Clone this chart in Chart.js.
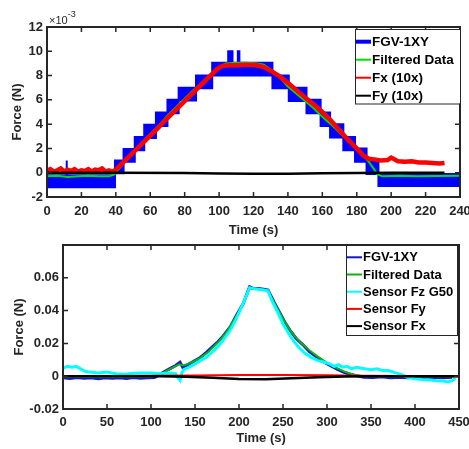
<!DOCTYPE html>
<html lang="en">
<head>
<meta charset="UTF-8">
<title>Force vs time</title>
<script src="https://cdn.jsdelivr.net/npm/chart.js"></script>
<style>
  body { margin: 0; background: #fff; }
  canvas { position: absolute; left: 0; }
  #topChart { top: 0; }
  #bottomChart { top: 240px; }
</style>
</head>
<body>
<canvas id="topChart" width="469" height="240"></canvas>
<canvas id="bottomChart" width="469" height="209"></canvas>
<script>
// ---- top panel, force in units of 1e-3 N ----
// FGV-1XY is a quantised signal: the blue band is stored as the upper and lower edge of each level,
// level i holds from fgvTime[i] to fgvTime[i+1]
const fgvTime = [0, 11.2, 11.6, 39.5, 44.5, 51, 56.5, 63.3, 70, 76.5, 86.6, 96, 105.3, 107.8, 110.9, 111.8, 131, 140.5, 150.8, 159, 164.5, 172.2, 179, 185.7, 192.6, 240];
const fgvHigh = [-0.2, 1.0, -0.2, 1.0, 1.95, 2.95, 3.95, 4.95, 6.0, 7.0, 8.0, 9.05, 10.0, 9.05, 10.0, 9.05, 8.0, 7.0, 6.0, 4.95, 4.0, 2.95, 2.0, 1.0, -0.1, -0.1];
const fgvLow = [-1.2, -1.2, -1.2, -0.05, 0.9, 1.85, 2.85, 3.85, 4.9, 5.95, 6.95, 8.0, 8.0, 8.0, 8.0, 8.0, 6.95, 5.9, 4.9, 3.85, 2.9, 1.85, 0.9, -0.1, -1.1, -1.1];

const filtTime = [0, 6, 12, 18, 24, 30, 36, 39, 42, 46, 50, 55, 60, 65, 70, 75, 80, 85, 90, 95, 100, 104, 110, 116, 122, 126, 130, 135, 140, 145, 150, 155, 160, 165, 170, 175, 180, 184, 187, 190, 192, 195, 205, 215, 225, 240];
const filtVal = [-0.3, -0.25, -0.35, -0.3, -0.25, -0.3, -0.3, -0.15, 0.35, 1.0, 1.7, 2.45, 3.2, 3.9, 4.7, 5.4, 6.1, 6.8, 7.4, 8.1, 8.7, 9.0, 9.05, 9.05, 9.0, 8.9, 8.5, 7.9, 7.1, 6.5, 5.9, 5.3, 4.6, 4.0, 3.3, 2.6, 1.95, 1.4, 0.9, 0.3, -0.15, -0.3, -0.25, -0.3, -0.28, -0.25];

const fxTime = [0, 2, 4, 6, 8, 10, 12, 14, 16, 18, 20, 22, 24, 26, 28, 30, 32, 34, 36, 38, 40, 45, 50, 55, 60, 65, 70, 75, 80, 85, 90, 95, 99, 102, 106, 110, 114, 118, 122, 126, 130, 135, 140, 145, 150, 155, 160, 165, 170, 175, 180, 184, 187, 190, 194, 198, 200, 204, 208, 212, 216, 220, 224, 228, 231];
const fxVal = [0.15, 0.3, 0.1, 0.2, 0.35, 0.1, 0.25, 0.15, 0.3, 0.1, 0.2, 0.15, 0.3, 0.1, 0.25, 0.2, 0.35, 0.1, 0.2, 0.1, 0.25, 0.95, 1.65, 2.35, 3.05, 3.75, 4.5, 5.2, 5.9, 6.6, 7.3, 8.0, 8.55, 8.8, 8.85, 8.85, 8.9, 8.9, 8.85, 8.7, 8.4, 7.95, 7.4, 6.8, 6.2, 5.65, 5.0, 4.3, 3.5, 2.7, 2.0, 1.4, 1.15, 1.1, 1.0, 1.05, 1.25, 0.95, 0.9, 0.95, 0.85, 0.85, 0.8, 0.75, 0.8];

const fyTime = [0, 40, 80, 100, 120, 140, 160, 180, 200, 231];
const fyVal = [0, 0, -0.02, -0.06, -0.08, -0.08, -0.05, -0.02, 0, 0];

// ---- bottom panel, force in N ----
const fgv2Time = [0, 8, 16, 24, 32, 40, 48, 56, 64, 72, 80, 88, 96, 104, 110, 116, 122, 128, 133, 136, 140, 144, 150, 155, 163, 170, 176, 182, 190, 197, 205, 212, 216, 222, 228, 233, 240, 246, 252, 258, 265, 273, 280, 288, 296, 303, 311, 318, 326, 334, 342, 352, 362, 372, 382, 392, 402, 412, 422, 432, 442];
const fgv2Val = [-0.001, -0.0014, -0.0008, -0.0012, -0.001, -0.0015, -0.0009, -0.0012, -0.001, -0.0014, -0.0008, -0.0012, -0.001, -0.0008, 0.001, 0.003, 0.0048, 0.0065, 0.0085, 0.0055, 0.0065, 0.0077, 0.0095, 0.011, 0.0145, 0.018, 0.021, 0.0245, 0.030, 0.037, 0.0445, 0.0545, 0.0535, 0.0535, 0.053, 0.0525, 0.045, 0.039, 0.033, 0.028, 0.023, 0.019, 0.015, 0.0118, 0.0088, 0.0067, 0.0045, 0.0026, 0.0012, 0.0002, -0.0006, -0.0008, -0.0004, -0.001, -0.0006, -0.0009, -0.0005, -0.001, -0.0007, -0.0009, -0.0006];

const filt2Time = [0, 50, 100, 108, 116, 124, 132, 136, 144, 155, 165, 176, 186, 196, 205, 212, 222, 232, 240, 250, 260, 270, 280, 290, 300, 310, 320, 330, 340, 380, 445];
const filt2Val = [-0.0005, -0.0005, -0.0004, 0.0005, 0.0028, 0.005, 0.0072, 0.0065, 0.0078, 0.0108, 0.0148, 0.0205, 0.027, 0.036, 0.0445, 0.0535, 0.0532, 0.0525, 0.045, 0.035, 0.0265, 0.0205, 0.0158, 0.0118, 0.0082, 0.0052, 0.0028, 0.001, 0, -0.0002, -0.0002];

const fzTime = [0, 5, 10, 15, 20, 25, 30, 40, 50, 60, 70, 80, 90, 100, 110, 120, 128, 131, 133, 135, 137, 144, 150, 156, 163, 170, 176, 182, 190, 196, 201, 206, 212, 216, 222, 228, 233, 238, 244, 250, 256, 262, 268, 275, 282, 290, 297, 303, 308, 313, 318, 323, 328, 333, 338, 343, 350, 357, 363, 370, 378, 385, 392, 400, 408, 416, 424, 432, 438, 443, 446];
const fzVal = [0.005, 0.006, 0.0055, 0.006, 0.0045, 0.003, 0.0025, 0.002, 0.0025, 0.0015, 0.0012, 0.0018, 0.002, 0.002, 0.0015, 0.002, 0.0015, -0.001, -0.0025, 0.002, 0.004, 0.0057, 0.0075, 0.0095, 0.0117, 0.015, 0.018, 0.022, 0.028, 0.034, 0.040, 0.046, 0.054, 0.0535, 0.053, 0.0525, 0.052, 0.0455, 0.039, 0.032, 0.0265, 0.0215, 0.0175, 0.014, 0.0115, 0.0095, 0.0085, 0.0075, 0.006, 0.007, 0.0055, 0.006, 0.0045, 0.0055, 0.005, 0.0045, 0.004, 0.0045, 0.0035, 0.0035, 0.002, 0.001, -0.0008, -0.0015, -0.002, -0.0022, -0.0028, -0.003, -0.0035, -0.0025, -0.0012];

const sfyTime = [0, 100, 150, 200, 250, 300, 340, 450];
const sfyVal = [0, 0.0002, 0.0005, 0.0007, 0.0008, 0.0006, 0.0002, 0];

const sfxTime = [0, 110, 140, 170, 200, 230, 260, 290, 320, 350, 450];
const sfxVal = [0, 0, -0.0003, -0.001, -0.0017, -0.0018, -0.0013, -0.0007, -0.0002, 0, 0];

// axis ranges / tick steps
const topX = { min: 0, max: 240, step: 20 };
const topY = { min: -2, max: 12, step: 2 };
const botX = { min: 0, max: 450, step: 50 };
const botY = { min: -0.02, max: 0.08, step: 0.01 };

const fontFamily = "'Liberation Sans', Arial, sans-serif";
Chart.defaults.font.family = fontFamily;
Chart.defaults.font.weight = 'bold';
Chart.defaults.font.size = 13;
Chart.defaults.color = '#262626';

const pts = (ts, vs) => ts.map((t, i) => ({ x: t, y: vs[i] }));

// each level held flat until the next time stamp (fill does not cope with stepped lines)
function holdSteps(ts, vs) {
    const out = [];
    for (let i = 0; i < ts.length - 1; i++) {
        out.push({ x: ts[i], y: vs[i] }, { x: ts[i + 1], y: vs[i] });
    }
    return out;
}

// draws the box with inward ticks (MATLAB style) and the legend inside the axes
const frameAndLegend = {
    id: 'frameAndLegend',
    afterDatasetsDraw(chart, args, opts) {
        const { ctx, chartArea: a, scales: { x, y } } = chart;
        ctx.save();
        ctx.strokeStyle = '#262626';
        ctx.lineWidth = 1.5;
        ctx.beginPath();
        x.ticks.forEach(t => {
            const px = x.getPixelForValue(t.value);
            ctx.moveTo(px, a.bottom); ctx.lineTo(px, a.bottom - 5);
            ctx.moveTo(px, a.top); ctx.lineTo(px, a.top + 5);
        });
        y.ticks.forEach(t => {
            const py = y.getPixelForValue(t.value);
            ctx.moveTo(a.left, py); ctx.lineTo(a.left + 5, py);
            ctx.moveTo(a.right, py); ctx.lineTo(a.right - 5, py);
        });
        ctx.stroke();
        ctx.lineWidth = 2;
        ctx.strokeRect(a.left, a.top, a.width, a.height);

        if (opts.exponent) {
            ctx.fillStyle = '#262626';
            ctx.textBaseline = 'alphabetic';
            ctx.font = `11px ${fontFamily}`;
            ctx.fillText('\u00d710', a.left + 2, a.top - 3);
            const w = ctx.measureText('\u00d710').width;
            ctx.font = `9px ${fontFamily}`;
            ctx.fillText(opts.exponent, a.left + 2 + w, a.top - 10);
        }

        const L = opts.box;
        ctx.fillStyle = '#fff';
        ctx.fillRect(L.left, L.top, L.right - L.left, L.bottom - L.top);
        ctx.lineWidth = 1;
        ctx.strokeStyle = '#262626';
        ctx.strokeRect(L.left + 0.5, L.top + 0.5, L.right - L.left, L.bottom - L.top);
        ctx.font = `bold ${L.size}px ${fontFamily}`;
        ctx.textBaseline = 'middle';
        let row = 0;
        chart.data.datasets.forEach(ds => {
            if (ds.legendHide) return;
            const yy = L.top + L.first + row * L.step;
            ctx.strokeStyle = ds.borderColor;
            ctx.lineWidth = ds.legendLine || 2;
            ctx.beginPath();
            ctx.moveTo(L.left + 1, yy);
            ctx.lineTo(L.left + 16, yy);
            ctx.stroke();
            ctx.fillStyle = '#000';
            ctx.fillText(ds.label, L.left + 17, yy + 0.5);
            row++;
        });
        ctx.restore();
    }
};

function axes(xr, yr, yWidth, xHeight, yTitlePad, xTitlePad, xTickPad, yFmt) {
    return {
        x: {
            type: 'linear', min: xr.min, max: xr.max,
            grid: { display: false, drawTicks: false },
            border: { display: false },
            ticks: { stepSize: xr.step, padding: xTickPad, maxRotation: 0, color: '#262626' },
            title: { display: true, text: 'Time (s)', color: '#262626', padding: { top: 0, bottom: xTitlePad } },
            afterFit: s => { s.height = xHeight; s.paddingLeft = 0; s.paddingRight = 0; }
        },
        y: {
            type: 'linear', min: yr.min, max: yr.max,
            grid: { display: false, drawTicks: false },
            border: { display: false },
            ticks: { stepSize: yr.step, padding: 4, color: '#262626', callback: yFmt },
            title: { display: true, text: 'Force (N)', color: '#262626', padding: { top: yTitlePad, bottom: 0 } },
            afterFit: s => { s.width = yWidth; s.paddingTop = 0; s.paddingBottom = 0; }
        }
    };
}

new Chart(document.getElementById('topChart'), {
    type: 'line',
    data: {
        datasets: [
            { label: 'FGV-1XY', data: holdSteps(fgvTime, fgvHigh), borderColor: '#0000ff', backgroundColor: '#0000ff', borderWidth: 2, fill: '+1', order: 5, legendLine: 4 },
            { label: 'FGV-1XY low', data: holdSteps(fgvTime, fgvLow), borderColor: '#0000ff', borderWidth: 2, fill: false, order: 5, legendHide: true },
            { label: 'Filtered Data', data: pts(filtTime, filtVal), borderColor: '#00e000', borderWidth: 2, order: 3 },
            { label: 'Fx (10x)', data: pts(fxTime, fxVal), borderColor: '#ff0000', borderWidth: 4.5, order: 2 },
            { label: 'Fy (10x)', data: pts(fyTime, fyVal), borderColor: '#000000', borderWidth: 2.5, order: 1 }
        ]
    },
    options: {
        responsive: false,
        animation: false,
        events: [],
        elements: { point: { radius: 0 }, line: { tension: 0 } },
        layout: { padding: { left: 0, right: 9, top: 27, bottom: 0 } },
        scales: axes(topX, topY, 47, 43, 10, 2.2, 7, v => String(v)),
        plugins: {
            legend: { display: false },
            tooltip: { enabled: false },
            frameAndLegend: {
                exponent: '-3',
                box: { left: 355, top: 29, right: 460, bottom: 103.5, first: 12.7, step: 18, size: 13.5 }
            }
        }
    },
    plugins: [frameAndLegend]
});

new Chart(document.getElementById('bottomChart'), {
    type: 'line',
    data: {
        datasets: [
            { label: 'FGV-1XY', data: pts(fgv2Time, fgv2Val), borderColor: '#1414d2', borderWidth: 3, order: 5 },
            { label: 'Filtered Data', data: pts(filt2Time, filt2Val), borderColor: '#12b012', borderWidth: 2, order: 4 },
            { label: 'Sensor Fz G50', data: pts(fzTime, fzVal), borderColor: '#00ffff', borderWidth: 3, order: 3 },
            { label: 'Sensor Fy', data: pts(sfyTime, sfyVal), borderColor: '#ff0000', borderWidth: 2, order: 2 },
            { label: 'Sensor Fx', data: pts(sfxTime, sfxVal), borderColor: '#000000', borderWidth: 2.5, order: 1 }
        ]
    },
    options: {
        responsive: false,
        animation: false,
        events: [],
        elements: { point: { radius: 0 }, line: { tension: 0 } },
        layout: { padding: { left: 0, right: 10, top: 5, bottom: 0 } },
        scales: axes(botX, botY, 63, 40, 12, 3.2, 6, v => Math.abs(v - 0.08) < 1e-9 ? '' : String(+v.toFixed(2))),
        plugins: {
            legend: { display: false },
            tooltip: { enabled: false },
            frameAndLegend: {
                box: { left: 346, top: 5, right: 457, bottom: 95, first: 12.3, step: 17.2, size: 13 }
            }
        }
    },
    plugins: [frameAndLegend]
});
</script>
</body>
</html>
